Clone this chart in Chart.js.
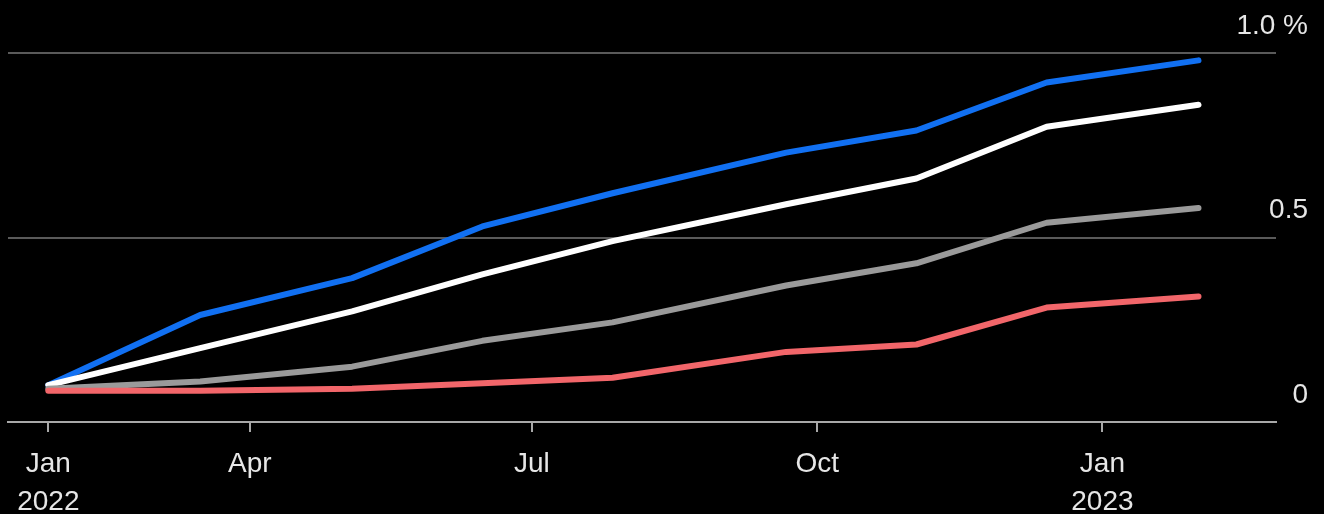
<!DOCTYPE html>
<html>
<head>
<meta charset="utf-8">
<script src="https://cdn.jsdelivr.net/npm/chart.js@4"></script>
<style>
  html,body{margin:0;padding:0;background:#000;}
  #wrap{width:1324px;height:514px;position:relative;}
</style>
</head>
<body>
<div id="wrap"><canvas id="chart"></canvas></div>
<script>
// meeting dates (x) and the four series, values in %
const dates = ['2022-01-26','2022-03-16','2022-05-04','2022-06-15','2022-07-27','2022-09-21','2022-11-02','2022-12-14','2023-02-01'];
const blueVals  = [0.10, 0.29, 0.39, 0.53, 0.62, 0.73, 0.79, 0.92, 0.98];
const whiteVals = [0.10, 0.20, 0.30, 0.40, 0.49, 0.59, 0.66, 0.80, 0.86];
const grayVals  = [0.09, 0.11, 0.15, 0.22, 0.27, 0.37, 0.43, 0.54, 0.58];
const redVals   = [0.085, 0.085, 0.09, 0.105, 0.12, 0.19, 0.21, 0.31, 0.34];

// axis ticks
const xTickDates = ['2022-01-26','2022-04-01','2022-07-01','2022-10-01','2023-01-01'];
const xTickLabels = [['Jan','2022'],'Apr','Jul','Oct',['Jan','2023']];
const yTickValues = [0, 0.5, 1.0];
const yTickLabels = ['0','0.5','1.0 %'];
const xMin = '2022-01-13', xMax = '2023-02-26';

const day0 = Date.UTC(2022,0,1);
const dayOf = s => { const [y,m,d] = s.split('-').map(Number); return (Date.UTC(y,m-1,d) - day0) / 86400000; };
const pts = vals => vals.map((v,i) => ({x: dayOf(dates[i]), y: v}));

const font = {family:'"Liberation Sans", Arial, sans-serif', size:28};
const line = (data, color) => ({data, borderColor:color, borderWidth:6, pointRadius:0, borderCapStyle:'round', borderJoinStyle:'round', tension:0, fill:false});

new Chart(document.getElementById('chart'), {
  type:'line',
  data:{
    datasets:[
      line(pts(redVals), '#f2666a'),
      line(pts(grayVals), '#9a9a9a'),
      line(pts(whiteVals), '#ffffff'),
      line(pts(blueVals), '#1170f2')
    ]
  },
  options:{
    responsive:true, maintainAspectRatio:false, animation:false,
    layout:{autoPadding:false, padding:{top:53, left:8, right:16, bottom:0}},
    plugins:{legend:{display:false}, tooltip:{enabled:false}},
    scales:{
      x:{
        type:'linear', min:dayOf(xMin), max:dayOf(xMax),
        afterBuildTicks: s => { s.ticks = xTickDates.map(d => ({value: dayOf(d)})); },
        afterFit: s => { s.height = 92; },
        grid:{drawOnChartArea:false, drawTicks:true, tickLength:10, color:'#a8a8a8', lineWidth:2},
        border:{display:true, color:'#a8a8a8', width:2},
        ticks:{color:'#e6e6e6', font:{...font, lineHeight:1.36}, padding:13, autoSkip:false, maxRotation:0,
          callback:(v,i) => xTickLabels[i]}
      },
      y:{
        position:'right', min:0, max:1,
        afterBuildTicks: s => { s.ticks = yTickValues.map(v => ({value: v})); },
        afterFit: s => { s.width = 32; },
        grid:{drawTicks:false, lineWidth:2, color: c => c.tick && c.tick.value === 0 ? '#a8a8a8' : '#5a5a5a'},
        border:{display:false},
        ticks:{color:'#e6e6e6', font, mirror:true, crossAlign:'near', padding:32, labelOffset:-27,
          callback:(v,i) => yTickLabels[i]}
      }
    }
  }
});
</script>
</body>
</html>
